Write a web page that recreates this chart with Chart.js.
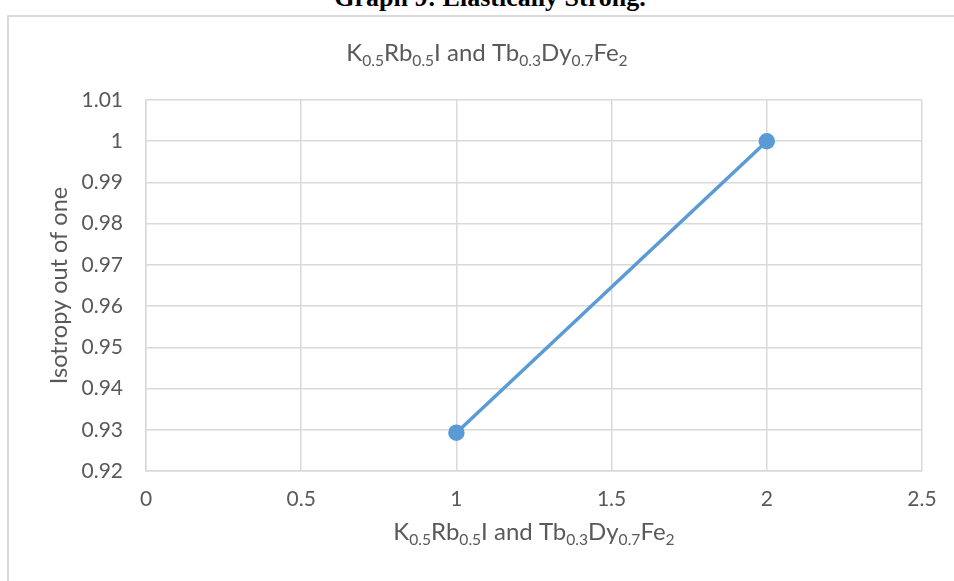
<!DOCTYPE html>
<html>
<head>
<meta charset="utf-8">
<script src="https://cdn.jsdelivr.net/npm/chart.js@4/dist/chart.umd.min.js"></script>
<style>
  html, body { margin: 0; padding: 0; background: #fff; }
  body { width: 954px; height: 581px; position: relative; overflow: hidden; }
  #caption {
    position: absolute; left: 0; width: 980px; top: -15px;
    text-align: center; font: bold 26px "Liberation Serif", serif; line-height: 26px; color: #000;
  }
  #frame {
    position: absolute; left: 7px; top: 15px; width: 1000px; height: 700px;
    border-left: 2px solid #d9d9d9; border-top: 2px solid #d9d9d9;
  }
  #chart { position: absolute; left: 0; top: 0; }
</style>
</head>
<body>
<div id="caption">Graph 9: Elastically Strong.</div>
<div id="frame"></div>
<canvas id="chart" width="954" height="581"></canvas>
<script>
const X_VALUES = [1, 2];
const Y_VALUES = [0.9293, 1.0];

// compound name, split into normal / subscript runs
const COMPOUND_LABEL = [
  ["K", false], ["0.5", true], ["Rb", false], ["0.5", true], ["I and Tb", false],
  ["0.3", true], ["Dy", false], ["0.7", true], ["Fe", false], ["2", true]
];
const Y_TITLE = "Isotropy out of one";

const TEXT_COLOR = "#595959";
const GRID_COLOR = "#d9d9d9";
const LINE_COLOR = "#5b9bd5";
const FONT = "Lato";

function cleanTick(v) {
  return String(Number(Number(v).toFixed(2)));
}

function richWidth(ctx, runs, size) {
  let w = 0;
  runs.forEach(([t, sub]) => {
    ctx.font = `${sub ? size * 0.65 : size}px ${FONT}`;
    w += ctx.measureText(t).width;
  });
  return w;
}

function drawRich(ctx, runs, cx, baseline, size) {
  let x = cx - richWidth(ctx, runs, size) / 2;
  ctx.textAlign = "left";
  ctx.textBaseline = "alphabetic";
  ctx.fillStyle = TEXT_COLOR;
  runs.forEach(([t, sub]) => {
    ctx.font = `${sub ? size * 0.65 : size}px ${FONT}`;
    ctx.fillText(t, x, sub ? baseline + size * 0.22 : baseline);
    x += ctx.measureText(t).width;
  });
}

const titlesPlugin = {
  id: "titles",
  afterDraw(chart) {
    const ctx = chart.ctx;
    const area = chart.chartArea;
    ctx.save();
    drawRich(ctx, COMPOUND_LABEL, 487, 61, 24);
    drawRich(ctx, COMPOUND_LABEL, (area.left + area.right) / 2, 540, 24);

    ctx.translate(67, (area.top + area.bottom) / 2);
    ctx.rotate(-Math.PI / 2);
    ctx.font = `23.5px ${FONT}`;
    ctx.textAlign = "center";
    ctx.textBaseline = "alphabetic";
    ctx.fillStyle = TEXT_COLOR;
    ctx.fillText(Y_TITLE, 0, 0);
    ctx.restore();
  }
};

new Chart(document.getElementById("chart"), {
  type: "scatter",
  data: {
    datasets: [{
      data: X_VALUES.map((x, i) => ({ x, y: Y_VALUES[i] })),
      showLine: true,
      borderColor: LINE_COLOR,
      backgroundColor: LINE_COLOR,
      borderWidth: 3.5,
      pointRadius: 6.5,
      pointHoverRadius: 6.5
    }]
  },
  options: {
    responsive: false,
    animation: false,
    layout: { padding: { top: 100, right: 32, left: 0, bottom: 0 } },
    plugins: {
      legend: { display: false },
      tooltip: { enabled: false }
    },
    scales: {
      x: {
        type: "linear",
        min: 0,
        max: 2.5,
        afterFit: s => { s.height = 110; },
        grid: { color: GRID_COLOR, lineWidth: 1.5, drawTicks: false },
        border: { color: GRID_COLOR, width: 1.5 },
        ticks: {
          stepSize: 0.5,
          padding: 16,
          color: TEXT_COLOR,
          font: { family: FONT, size: 21 },
          callback: cleanTick
        }
      },
      y: {
        min: 0.92,
        max: 1.01,
        afterFit: s => { s.width = 146; },
        grid: { color: GRID_COLOR, lineWidth: 1.5, drawTicks: false },
        border: { color: GRID_COLOR, width: 1.5 },
        ticks: {
          stepSize: 0.01,
          padding: 23,
          color: TEXT_COLOR,
          font: { family: FONT, size: 21 },
          callback: cleanTick
        }
      }
    }
  },
  plugins: [titlesPlugin]
});
</script>
</body>
</html>
